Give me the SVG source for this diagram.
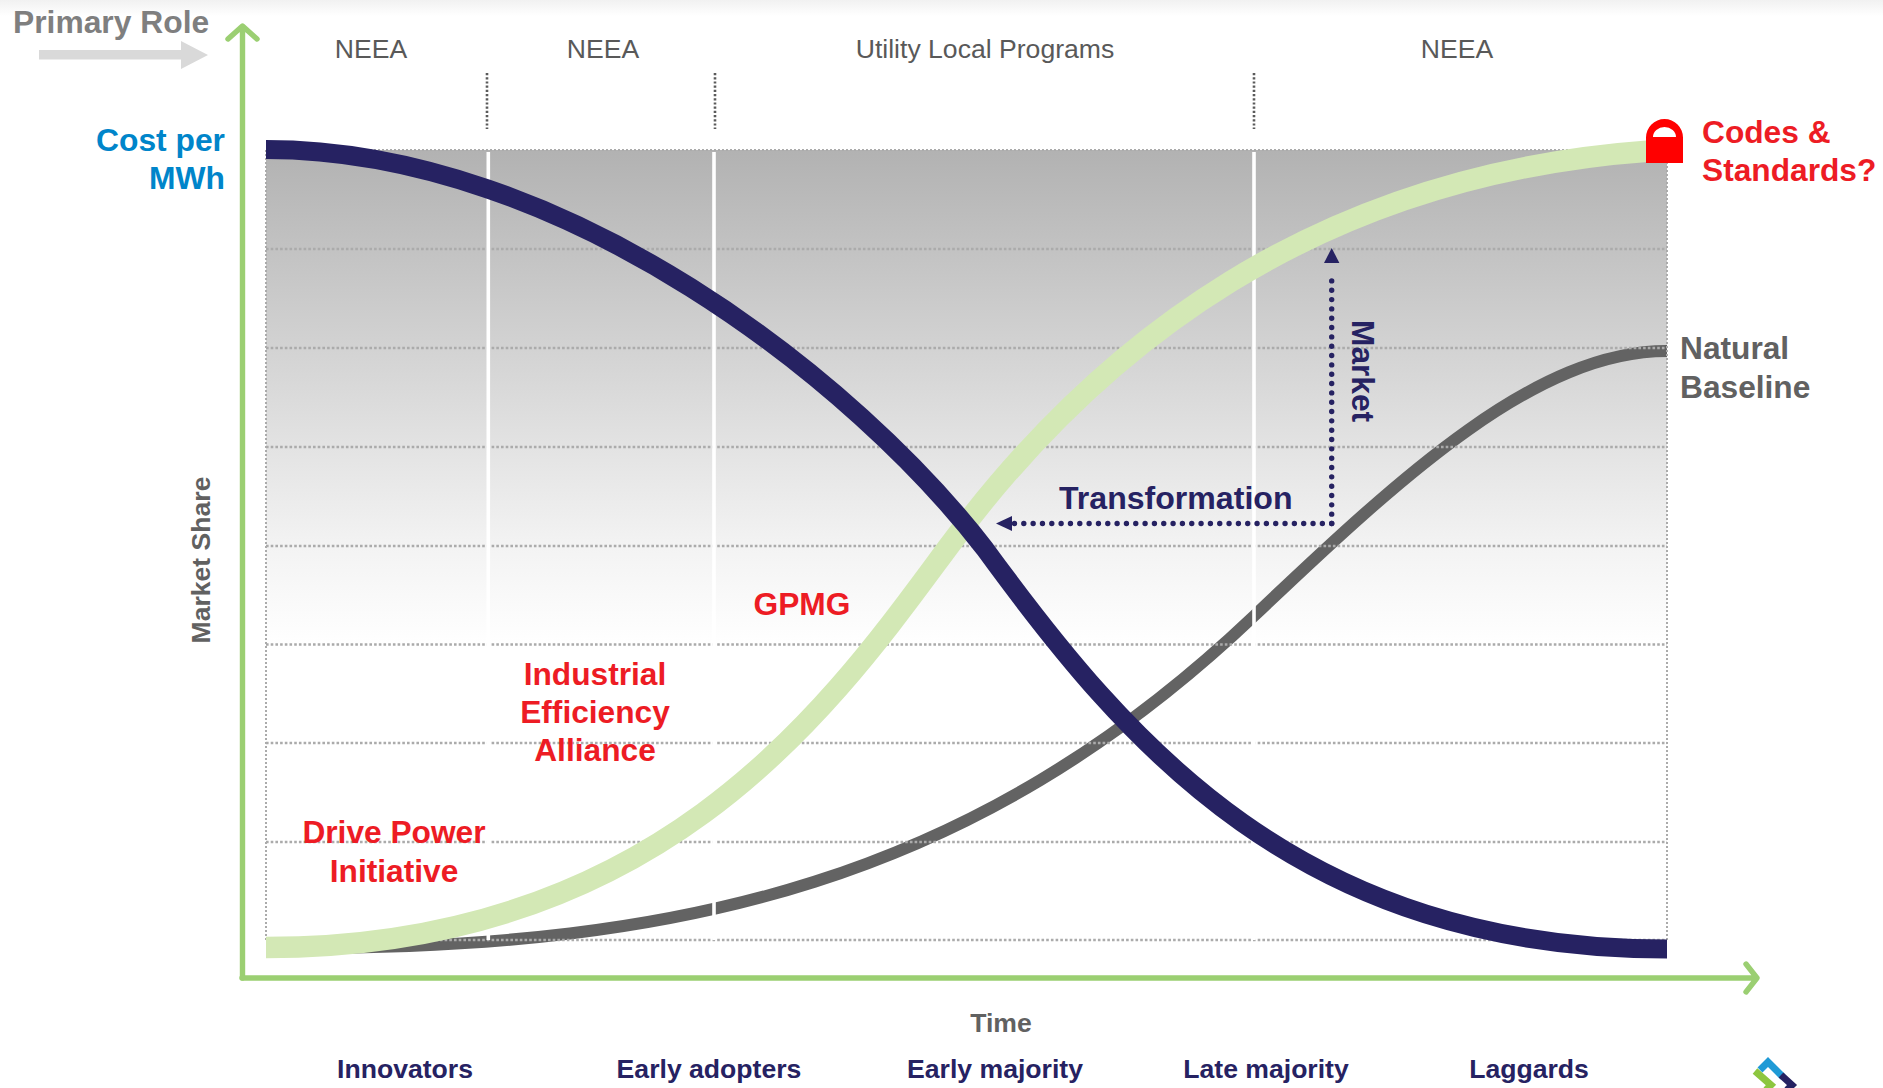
<svg xmlns="http://www.w3.org/2000/svg" width="1883" height="1088" viewBox="0 0 1883 1088">
<style>
text{font-family:"Liberation Sans",Arial,sans-serif}
.b{font-weight:700}
.r{font-size:26.6px;fill:#595959;text-anchor:middle}
.nb{font-size:26.6px;fill:#262262;text-anchor:middle;font-weight:700}
.red{font-size:31.7px;fill:#ed1c24;font-weight:700}
.c{text-anchor:middle}
.grid{stroke:#ababab;stroke-width:2.6;stroke-dasharray:2.6 2.1;fill:none}
.edge{stroke:#ababab;stroke-width:2;stroke-dasharray:2 2;fill:none}
.wl{stroke:#fff;stroke-width:3.6;fill:none}
.tick{stroke:#5a5a5a;stroke-width:2.6;stroke-dasharray:2.2 2;fill:none}
.axis{stroke:#9bcf72;stroke-width:5.4;fill:none;stroke-linecap:round;stroke-linejoin:round}
.dot{stroke:#262262;stroke-width:5.4;stroke-linecap:round;stroke-dasharray:0 9.33;fill:none}
</style>
<defs>
<linearGradient id="fade" x1="0" y1="150" x2="0" y2="645" gradientUnits="userSpaceOnUse">
<stop offset="0" stop-color="#b2b2b2"/><stop offset="0.8" stop-color="#f3f3f3"/><stop offset="1" stop-color="#ffffff"/>
</linearGradient>
<linearGradient id="topband" x1="0" y1="0" x2="0" y2="1">
<stop offset="0" stop-color="#f1f1f1"/><stop offset="1" stop-color="#ffffff"/>
</linearGradient>
</defs>
<rect width="1883" height="1088" fill="#fff"/>
<rect width="1883" height="16" fill="url(#topband)"/>
<rect id="field" x="266" y="150" width="1401" height="495" fill="url(#fade)"/>

<g id="curve-baseline"><path d="M300,948 C680,948 974,882 1254,616 C1404,473.5 1537,351 1667,351" fill="none" stroke="#636363" stroke-width="12"/></g>

<g id="grid">
<path class="edge" d="M266,150H1667M266,150V940M1667,150V940"/>
<path class="grid" d="M266,249H1667M266,348H1667M266,447H1667M266,546H1667M266,644.5H1667M266,743H1667M266,842H1667M266,940H1667"/>
</g>
<g id="phase-lines">
<path class="wl" d="M488.3,152V940M714,152V940M1254,152V940"/>
<path class="tick" d="M487,73V129M715,73V129M1254,73V129"/>
</g>

<g id="curve-adoption"><path d="M266,947.5 C666,947.5 834,701 949,546 C1099,343.5 1316,175 1650,151" fill="none" stroke="#d3e8b5" stroke-width="21.5"/></g>
<g id="curve-cost"><path d="M266,149.5 C566,149.5 858,384 985,549 C1128,745 1300,949 1667,949" fill="none" stroke="#262262" stroke-width="19"/></g>

<g id="connectors">
<path class="axis" d="M242.5,978V27M228,39L242.5,26L257,39"/>
<path class="axis" d="M242,978H1756M1746,964L1757,978L1746,992"/>
<polygon points="39,50 181,50 181,41 208,55 181,69 181,59.5 39,59.5" fill="#d9d9d9"/>
<path class="dot" d="M1331.7,523.5V272"/>
<path class="dot" d="M1331.7,523.5H1014"/>
<polygon points="1331.7,248 1324,263 1339.4,263" fill="#262262"/>
<polygon points="996,523.5 1012,516 1012,531" fill="#262262"/>
</g>

<g id="lock"><path fill-rule="evenodd" d="M1646,163V137.5A18.5,18.5 0 0 1 1683,137.5V163ZM1653,137H1676A11.5,10 0 0 0 1653,137Z" fill="#ff0000"/></g>

<g id="labels">
<text class="b" x="13" y="33" font-size="31.8" fill="#7f7f7f">Primary Role</text>
<text class="r" x="371" y="58">NEEA</text>
<text class="r" x="603" y="58">NEEA</text>
<text class="r" x="985" y="58">Utility Local Programs</text>
<text class="r" x="1457" y="58">NEEA</text>
<text class="b" x="225" y="151" font-size="31.8" fill="#0085ca" text-anchor="end">Cost per</text>
<text class="b" x="225" y="189" font-size="31.8" fill="#0085ca" text-anchor="end">MWh</text>
<text class="red" x="1702" y="143">Codes &amp;</text>
<text class="red" x="1702" y="181">Standards?</text>
<text class="b" x="1680" y="359" font-size="31.7" fill="#616161">Natural</text>
<text class="b" x="1680" y="398" font-size="31.7" fill="#616161">Baseline</text>
<text class="b" x="1059" y="509" font-size="32.1" fill="#262262">Transformation</text>
<text class="b" transform="translate(1352,320) rotate(90)" font-size="31.7" fill="#262262">Market</text>
<text class="b c" transform="translate(210,560) rotate(-90)" font-size="26.6" fill="#616161">Market Share</text>
<text class="red c" x="802" y="615">GPMG</text>
<text class="red c" x="595" y="685">Industrial</text>
<text class="red c" x="595" y="723">Efficiency</text>
<text class="red c" x="595" y="761">Alliance</text>
<text class="red c" x="394" y="843">Drive Power</text>
<text class="red c" x="394" y="882">Initiative</text>
<text class="b c" x="1001" y="1032" font-size="26.6" fill="#616161">Time</text>
<text class="nb" x="405" y="1078">Innovators</text>
<text class="nb" x="709" y="1078">Early adopters</text>
<text class="nb" x="995" y="1078">Early majority</text>
<text class="nb" x="1266" y="1078">Late majority</text>
<text class="nb" x="1529" y="1078">Laggards</text>
</g>

<g id="logo" fill="none" stroke-width="7">
<path d="M1755,1071L1771,1085L1766,1090" stroke="#8dc63f"/>
<path d="M1760,1070L1768,1062L1783,1077" stroke="#1f9ad6"/>
<path d="M1781,1075L1792,1085L1787,1090" stroke="#262262"/>
</g>
</svg>
